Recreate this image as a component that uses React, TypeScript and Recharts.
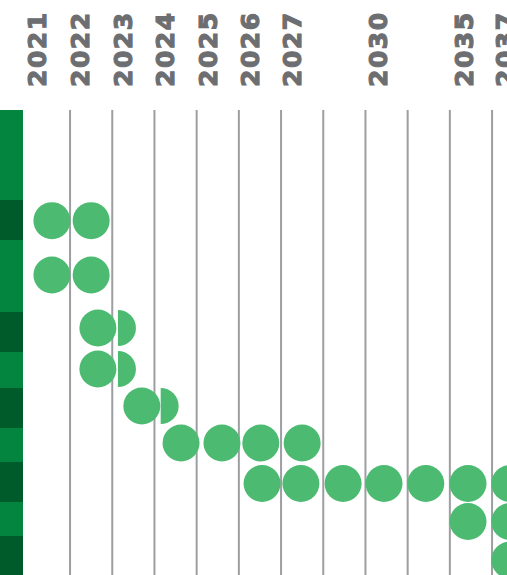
import { ScatterChart, Scatter, XAxis, YAxis, ReferenceLine, ReferenceArea } from "recharts";

// x is measured in year columns (0 = 2021 column), y in row units from the top of the grid
const yearLabels = ["2021", "2022", "2023", "2024", "2025", "2026", "2027", "2030", "2035", "2037"];
const yearTickPos = [-0.28, 0.74, 1.75, 2.76, 3.77, 4.77, 5.77, 7.8, 9.83, 10.8];
const columnEdges = [0.5, 1.5, 2.5, 3.5, 4.5, 5.5, 6.5, 7.5, 8.5, 9.5, 10.5, 11.5];

const bandTops = [0, 9, 13, 20.2, 24.2, 27.8, 31.8, 35.2, 39.2, 42.6];
const bandBottoms = [9, 13, 20.2, 24.2, 27.8, 31.8, 35.2, 39.2, 42.6, 46.5];

const fullDots = [
  { x: 0.07, y: 11.07 },
  { x: 1.0, y: 11.07 },
  { x: 0.07, y: 16.5 },
  { x: 1.0, y: 16.5 },
  { x: 1.16, y: 21.8 },
  { x: 1.16, y: 25.9 },
  { x: 2.2, y: 29.6 },
  { x: 3.13, y: 33.3 },
  { x: 4.1, y: 33.3 },
  { x: 5.02, y: 33.3 },
  { x: 6.0, y: 33.3 },
  { x: 5.05, y: 37.35 },
  { x: 5.97, y: 37.35 },
  { x: 6.97, y: 37.35 },
  { x: 7.94, y: 37.35 },
  { x: 8.93, y: 37.35 },
  { x: 9.93, y: 37.35 },
  { x: 10.92, y: 37.35 },
  { x: 9.93, y: 41.15 },
  { x: 10.92, y: 41.15 },
  { x: 10.92, y: 45.0 },
];

const halfDots = [
  { x: 1.635, y: 21.8 },
  { x: 1.635, y: 25.9 },
  { x: 2.647, y: 29.6 },
];

const DOT = "#4cbb71";
const R = 18.5;

const FullDot = (props: any) => <circle cx={props.cx} cy={props.cy} r={R} fill={DOT} />;

const HalfDot = (props: any) => {
  const { cx, cy } = props;
  const r = 18;
  return <path d={`M${cx},${cy - r} A${r},${r} 0 0 1 ${cx},${cy + r} Z`} fill={DOT} />;
};

const YearTick = (props: any) => {
  const { x, y, index } = props;
  return (
    <text
      x={x}
      y={y + 2}
      transform={`rotate(-90 ${x} ${y + 2})`}
      dy="0.36em"
      textAnchor="start"
      fontFamily="DejaVu Sans"
      fontWeight="bold"
      fontSize={25}
      letterSpacing={1.5}
      fill="#6d6e71"
      stroke="#6d6e71"
      strokeWidth={1.1}
    >
      {yearLabels[index]}
    </text>
  );
};

export default function App() {
  return (
    <div style={{ position: "fixed", left: 0, top: 0, width: 507, height: 575, overflow: "hidden", background: "#fff" }}>
      <ScatterChart width={560} height={575} margin={{ top: 10, right: 0, bottom: 0, left: 0 }}>
        <XAxis
          type="number"
          dataKey="x"
          orientation="top"
          height={100}
          domain={[-1.16, 12.11]}
          allowDataOverflow
          ticks={yearTickPos}
          interval={0}
          axisLine={false}
          tickLine={false}
          tickSize={0}
          tickMargin={25}
          tick={<YearTick />}
        />
        <YAxis type="number" dataKey="y" domain={[0, 46.5]} reversed hide allowDataOverflow />
        {bandTops.map((t, i) => (
          <ReferenceArea
            key={"b" + i}
            x1={-1.16}
            x2={-0.615}
            y1={t}
            y2={bandBottoms[i]}
            fill={i % 2 === 0 ? "#03843f" : "#005b2a"}
            fillOpacity={1}
            stroke="none"
          />
        ))}
        {columnEdges.map((e) => (
          <ReferenceLine key={"g" + e} x={e} stroke="#9d9ea1" strokeWidth={2} />
        ))}
        <Scatter data={fullDots} shape={FullDot} isAnimationActive={false} />
        <Scatter data={halfDots} shape={HalfDot} isAnimationActive={false} />
      </ScatterChart>
    </div>
  );
}
